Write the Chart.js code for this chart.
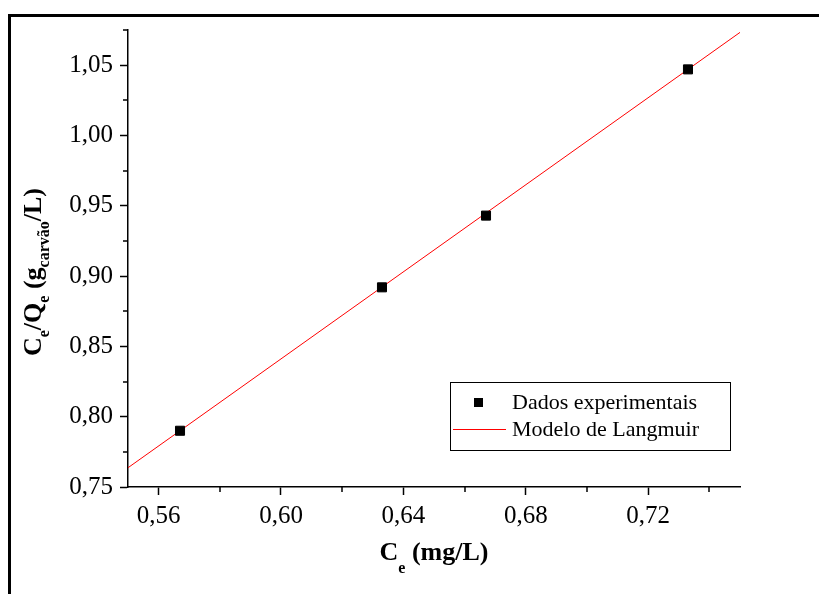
<!DOCTYPE html>
<html>
<head>
<meta charset="utf-8">
<script src="https://cdn.jsdelivr.net/npm/chart.js@4.4.1/dist/chart.umd.min.js"></script>
<style>
  html, body { margin: 0; padding: 0; background: #fff; }
  #wrap { width: 819px; height: 594px; position: relative; }
</style>
</head>
<body>
<div id="wrap"><canvas id="isoterma" width="819" height="594"></canvas></div>
<script>
// dados experimentais (Ce, Ce/Qe)
var ceData = [0.567, 0.633, 0.667, 0.733];
var ceQeData = [0.790, 0.892, 0.943, 1.047];
// reta do modelo de Langmuir
var fitX = [0.55, 0.75];
var fitY = [0.7637, 1.0733];
// eixos
var xTicks = [0.56, 0.60, 0.64, 0.68, 0.72];
var xMinor = [0.58, 0.62, 0.66, 0.70, 0.74];
var yTicks = [0.75, 0.80, 0.85, 0.90, 0.95, 1.00, 1.05];
var yMinor = [0.775, 0.825, 0.875, 0.925, 0.975, 1.025, 1.075];
var legendLabels = ['Dados experimentais', 'Modelo de Langmuir'];

var serif = "'Liberation Serif', 'Times New Roman', serif";

// escreve texto com subscritos, centrado em cx
function richText(ctx, parts, cx, baseY, size, subSize, subDy) {
  var total = 0;
  parts.forEach(p => {
    ctx.font = 'bold ' + (p.sub ? subSize : size) + 'px ' + serif;
    p.w = ctx.measureText(p.t).width;
    total += p.w;
  });
  var x = cx - total / 2;
  ctx.textAlign = 'left';
  ctx.textBaseline = 'alphabetic';
  parts.forEach(p => {
    ctx.font = 'bold ' + (p.sub ? subSize : size) + 'px ' + serif;
    ctx.fillText(p.t, x, p.sub ? baseY + subDy : baseY);
    x += p.w;
  });
}

var extras = {
  id: 'extras',
  afterDraw(chart) {
    var ctx = chart.ctx;
    var xs = chart.scales.x, ys = chart.scales.y;
    var area = chart.chartArea;
    ctx.save();
    ctx.fillStyle = '#000';
    ctx.strokeStyle = '#000';

    // moldura
    ctx.fillRect(8, 14, 819, 3);
    ctx.fillRect(8, 14, 3, 594);

    // ticks menores
    ctx.lineWidth = 1.5;
    ctx.beginPath();
    xMinor.forEach(v => {
      var px = Math.round(xs.getPixelForValue(v));
      ctx.moveTo(px, area.bottom);
      ctx.lineTo(px, area.bottom + 5);
    });
    yMinor.forEach(v => {
      var py = Math.round(ys.getPixelForValue(v));
      ctx.moveTo(area.left, py);
      ctx.lineTo(area.left - 5, py);
    });
    ctx.stroke();

    // titulos dos eixos
    richText(ctx, [{t: 'C'}, {t: 'e', sub: true}, {t: ' (mg/L)'}],
      (area.left + area.right) / 2, 560, 26, 16, 13);

    ctx.save();
    ctx.translate(41, 272);
    ctx.rotate(-Math.PI / 2);
    richText(ctx, [{t: 'C'}, {t: 'e', sub: true}, {t: '/Q'}, {t: 'e', sub: true},
      {t: ' (g'}, {t: 'carvão', sub: true}, {t: '/L)'}], 0, 0, 26, 16, 8);
    ctx.restore();

    // legenda
    var ds = chart.data.datasets;
    ctx.lineWidth = 1;
    ctx.strokeRect(450.5, 382.5, 280, 68);
    ctx.fillStyle = ds[0].backgroundColor;
    ctx.fillRect(474, 398, 9, 9);
    ctx.strokeStyle = ds[1].borderColor;
    ctx.beginPath();
    ctx.moveTo(453, 429.5);
    ctx.lineTo(506, 429.5);
    ctx.stroke();
    ctx.fillStyle = '#000';
    ctx.font = '22px ' + serif;
    ctx.textBaseline = 'middle';
    ctx.textAlign = 'left';
    ctx.fillText(legendLabels[0], 512, 403);
    ctx.fillText(legendLabels[1], 512, 430);
    ctx.restore();
  }
};

var chartEl = document.getElementById('isoterma');
new Chart(chartEl, {
  type: 'scatter',
  data: {
    datasets: [{
      label: legendLabels[0],
      data: ceData.map((x, i) => ({x: x, y: ceQeData[i]})),
      pointStyle: 'rect',
      pointRadius: 6.4,
      backgroundColor: '#000',
      borderColor: '#000',
      borderWidth: 1
    }, {
      label: legendLabels[1],
      data: fitX.map((x, i) => ({x: x, y: fitY[i]})),
      showLine: true,
      pointRadius: 0,
      borderColor: '#ff0000',
      borderWidth: 1
    }]
  },
  options: {
    responsive: false,
    animation: false,
    layout: { padding: { left: 0, top: 30, right: 79, bottom: 0 } },
    plugins: { legend: { display: false }, tooltip: { enabled: false } },
    scales: {
      x: {
        type: 'linear',
        min: 0.55,
        max: 0.75,
        afterBuildTicks: s => { s.ticks = xTicks.map(v => ({value: v})); },
        afterFit: s => { s.height = 107; },
        border: { display: true, color: '#000', width: 1.5 },
        grid: { drawOnChartArea: false, drawTicks: true, tickLength: 8, tickColor: '#000', tickWidth: 1.5 },
        ticks: {
          color: '#000',
          padding: 6,
          maxRotation: 0,
          font: { family: serif, size: 25 },
          callback: v => v.toFixed(2).replace('.', ',')
        }
      },
      y: {
        type: 'linear',
        min: 0.75,
        max: 1.075,
        afterBuildTicks: s => { s.ticks = yTicks.map(v => ({value: v})); },
        afterFit: s => { s.width = 128; },
        border: { display: true, color: '#000', width: 1.5 },
        grid: { drawOnChartArea: false, drawTicks: true, tickLength: 8, tickColor: '#000', tickWidth: 1.5 },
        ticks: {
          color: '#000',
          padding: 7,
          font: { family: serif, size: 25 },
          callback: v => v.toFixed(2).replace('.', ',')
        }
      }
    }
  },
  plugins: [extras]
});
</script>
</body>
</html>
